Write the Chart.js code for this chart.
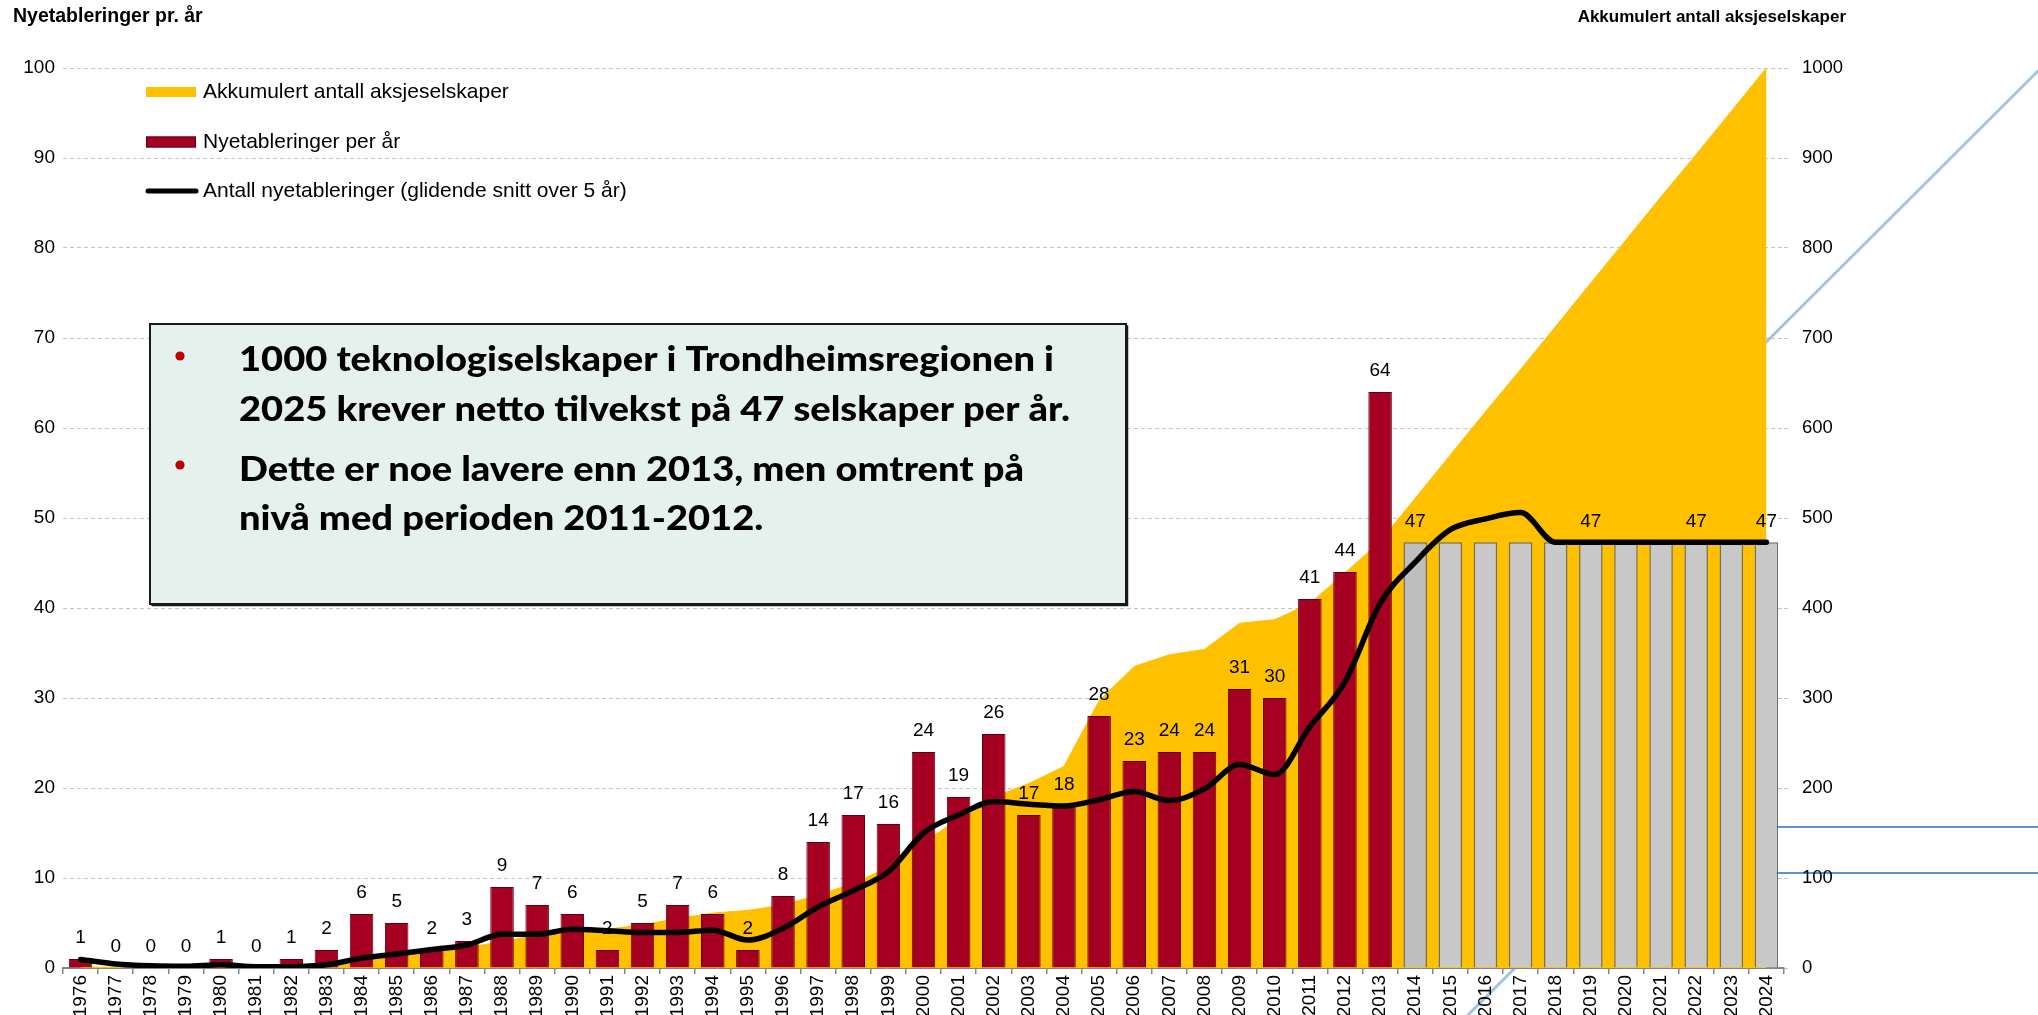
<!DOCTYPE html>
<html>
<head>
<meta charset="utf-8">
<script src="https://cdn.jsdelivr.net/npm/chart.js@4.4.1/dist/chart.umd.min.js"></script>
<style>
html,body{margin:0;padding:0;background:#ffffff;}
#wrap{position:relative;width:2038px;height:1015px;overflow:hidden;}
canvas{display:block;}
</style>
</head>
<body>
<div id="wrap"><canvas id="c" width="2038" height="1015"></canvas></div>
<script>
// ---------- DATA ----------
const years = ['1976','1977','1978','1979','1980','1981','1982','1983','1984','1985',
  '1986','1987','1988','1989','1990','1991','1992','1993','1994','1995',
  '1996','1997','1998','1999','2000','2001','2002','2003','2004','2005',
  '2006','2007','2008','2009','2010','2011','2012','2013','2014','2015',
  '2016','2017','2018','2019','2020','2021','2022','2023','2024'];

// Nyetableringer per år (historical, 1976-2013)
const newPerYear = [1,0,0,0,1,0,1,2,6,5,
  2,3,9,7,6,2,5,7,6,2,
  8,14,17,16,24,19,26,17,18,28,
  23,24,24,31,30,41,44,64];

// Required yearly growth (projection, 2014-2024)
const projectedPerYear = [47.3,47.3,47.3,47.3,47.3,47.3,47.3,47.3,47.3,47.3,47.3];
const projectedLabelShown = [true,false,false,false,false,true,false,false,true,false,true];

// Akkumulert antall aksjeselskaper (right axis)
const accumulated = [1,1,1,1,2,2,3,3,9,13,
  17,23,29,37,41,43,48,55,61,64,
  70,81,94,112,140,165,190,205,224,297,
  335,348,354,383,387,405,439,474,522,570,
  618,665,713,761,809,857,904,952,1000];

// Antall nyetableringer (glidende snitt over 5 år)
const movingAvg = [0.95,0.45,0.25,0.2,0.35,0.15,0.15,0.35,1.1,1.55,
  2.05,2.55,3.75,3.75,4.3,4.15,3.95,3.95,4.2,3.1,
  4.4,6.8,8.6,10.7,15.0,17.0,18.5,18.2,18.0,18.7,
  19.6,18.6,19.9,22.6,21.5,26.8,31.8,40.5,45.1,48.7,
  49.9,50.6,47.3,47.3,47.3,47.3,47.3,47.3,47.3];

const leftTicks = {min:0, max:100, step:10};
const rightTicks = {min:0, max:1000, step:100};

const titleLeft = 'Nyetableringer pr. år';
const titleRight = 'Akkumulert antall aksjeselskaper';
const boxParagraphs = [
  ['1000 teknologiselskaper i Trondheimsregionen i', '2025 krever netto tilvekst på 47 selskaper per år.'],
  ['Dette er noe lavere enn 2013, men omtrent på', 'nivå med perioden 2011-2012.']
];

// ---------- BUILD ----------
const FONT = "'Liberation Sans', Arial, Helvetica, sans-serif";
Chart.defaults.font.family = FONT;
Chart.defaults.color = '#000';

const nHist = newPerYear.length;
const histData = years.map((y,i)=> i < nHist ? newPerYear[i] : null);
const projData = years.map((y,i)=> i >= nHist ? projectedPerYear[i-nHist] : null);
const projShown = years.map((y,i)=> i >= nHist ? projectedLabelShown[i-nHist] : false);
const projColors = years.map((y,i)=> i === nHist ? '#BEBEBE' : '#C8C8C8');

const decoPlugin = {
  id:'deco',
  beforeDraw(chart){
    const c = chart.ctx;
    c.save();
    c.lineCap = 'round';
    c.strokeStyle = 'rgba(110,165,215,0.65)';
    c.lineWidth = 3;
    c.beginPath(); c.moveTo(1700,408); c.lineTo(2040,69); c.stroke();
    c.beginPath(); c.moveTo(1466,1017); c.lineTo(1560,923); c.stroke();
    c.strokeStyle = '#5B93CC';
    c.lineWidth = 2;
    [827,873].forEach(y=>{ c.beginPath(); c.moveTo(1700,y); c.lineTo(2038,y); c.stroke(); });
    c.restore();
  }
};

const labelPlugin = {
  id:'barLabels',
  afterDatasetDraw(chart, args){
    const ds = chart.data.datasets[args.index];
    if (ds.type !== 'bar') return;
    const c = chart.ctx;
    c.save();
    c.font = '19px ' + FONT;
    c.fillStyle = '#000';
    c.textAlign = 'center';
    c.textBaseline = 'middle';
    args.meta.data.forEach((bar,i)=>{
      const v = ds.data[i];
      if (v === null || v === undefined) return;
      if (ds.labelShown && !ds.labelShown[i]) return;
      c.fillText(String(Math.round(v)), bar.x, bar.y - 21);
    });
    c.restore();
  }
};

const overlayPlugin = {
  id:'overlay',
  afterDraw(chart){
    const c = chart.ctx;
    c.save();
    // axis titles
    c.fillStyle = '#000';
    c.textBaseline = 'middle';
    c.font = 'bold 19.5px ' + FONT;
    c.textAlign = 'left';
    c.fillText(titleLeft, 13, 17);
    c.font = 'bold 17px ' + FONT;
    c.textAlign = 'right';
    c.fillText(titleRight, 1846, 17);
    c.textAlign = 'left';

    // legend
    const items = [3,1,0];
    const ys = [92,142,191];
    c.font = '21px ' + FONT;
    items.forEach((di,k)=>{
      const ds = chart.data.datasets[di];
      const y = ys[k];
      if (ds.type === 'line' && ds.fill) {
        c.fillStyle = ds.backgroundColor;
        c.fillRect(146, y-5, 50, 10);
      } else if (ds.type === 'bar') {
        c.fillStyle = ds.backgroundColor;
        c.fillRect(146, y-5.5, 50, 11);
        c.strokeStyle = ds.borderColor; c.lineWidth = 1;
        c.strokeRect(146.5, y-5, 49, 10);
      } else {
        c.strokeStyle = ds.borderColor; c.lineWidth = 5; c.lineCap = 'round';
        c.beginPath(); c.moveTo(148, y); c.lineTo(196, y); c.stroke();
      }
      c.fillStyle = '#000';
      c.textBaseline = 'middle';
      c.fillText(ds.label, 203, y);
    });

    // text box
    const bx = 150, by = 324, bw = 976, bh = 280;
    c.fillStyle = '#E5F1EC';
    c.fillRect(bx, by, bw, bh);
    c.strokeStyle = '#1a1a1a';
    c.lineWidth = 2;
    c.strokeRect(bx, by, bw, bh);
    c.lineWidth = 1.5;
    c.beginPath(); c.moveTo(bx+bw+1.5, by+2); c.lineTo(bx+bw+1.5, by+bh+1.5); c.lineTo(bx+2, by+bh+1.5); c.stroke();

    c.font = '900 35px Lato, ' + FONT;
    const w = c.measureText(boxParagraphs[0][1]).width;
    const sx = 831 / w;
    const baselines = [[371,421],[481,530]];
    const bullets = [356, 465];
    boxParagraphs.forEach((para,p)=>{
      c.fillStyle = '#C00000';
      c.beginPath(); c.arc(180, bullets[p], 4.6, 0, Math.PI*2); c.fill();
      c.fillStyle = '#000';
      c.textBaseline = 'alphabetic';
      para.forEach((line,l)=>{
        c.save();
        c.translate(239, baselines[p][l]);
        c.scale(sx, 1);
        c.fillText(line, 0, 0);
        c.restore();
      });
    });
    c.restore();
  }
};

const ctx = document.getElementById('c').getContext('2d');
new Chart(ctx, {
  type:'bar',
  data:{
    labels: years,
    datasets:[
      {type:'line', label:'Antall nyetableringer (glidende snitt over 5 år)', data: movingAvg,
       yAxisID:'y', borderColor:'#000000', borderWidth:5.5, pointRadius:0, cubicInterpolationMode:'monotone',
       borderCapStyle:'round', borderJoinStyle:'round', fill:false, order:0},
      {type:'bar', label:'Nyetableringer per år', data: histData, yAxisID:'y',
       backgroundColor:'#A50021', borderColor:'#5C0016', borderWidth:1,
       grouped:false, barPercentage:0.67, categoryPercentage:1, order:1},
      {type:'bar', label:'Nødvendig tilvekst', data: projData, yAxisID:'y', labelShown: projShown,
       backgroundColor: projColors, borderColor:'#6E6E6E', borderWidth:1.5,
       grouped:false, barPercentage:0.67, categoryPercentage:1, order:2},
      {type:'line', label:'Akkumulert antall aksjeselskaper', data: accumulated, yAxisID:'y1',
       fill:'origin', backgroundColor:'#FFC000', borderColor:'#FFC000', borderWidth:1,
       pointRadius:0, tension:0, order:3}
    ]
  },
  options:{
    responsive:false,
    animation:false,
    devicePixelRatio:1,
    layout:{padding:{top:68, left:0, right:0, bottom:0}},
    plugins:{legend:{display:false}, tooltip:{enabled:false}, title:{display:false}},
    scales:{
      x:{
        offset:true,
        grid:{offset:true, drawOnChartArea:false, drawTicks:true, tickLength:6, color:'#868686', lineWidth:1.5},
        border:{display:true, color:'#868686', width:2},
        ticks:{minRotation:90, maxRotation:90, autoSkip:false, font:{size:19}, color:'#000', padding:1},
        afterFit(s){ s.height = 47; }
      },
      y:{
        position:'left', min:leftTicks.min, max:leftTicks.max,
        ticks:{stepSize:leftTicks.step, font:{size:19}, color:'#000', padding:8},
        grid:{color:'#C4C4C4', lineWidth:1, drawTicks:false},
        border:{display:false, dash:[4,3]},
        afterFit(s){ s.width = 63; }
      },
      y1:{
        position:'right', min:rightTicks.min, max:rightTicks.max,
        ticks:{stepSize:rightTicks.step, font:{size:18.5}, color:'#000', padding:14,
               callback:(v)=>String(v)},
        grid:{drawOnChartArea:false, drawTicks:true, tickLength:4, color:'#C4C4C4'},
        border:{display:false},
        afterFit(s){ s.width = 254; }
      }
    }
  },
  plugins:[decoPlugin, labelPlugin, overlayPlugin]
});
</script>
</body>
</html>
